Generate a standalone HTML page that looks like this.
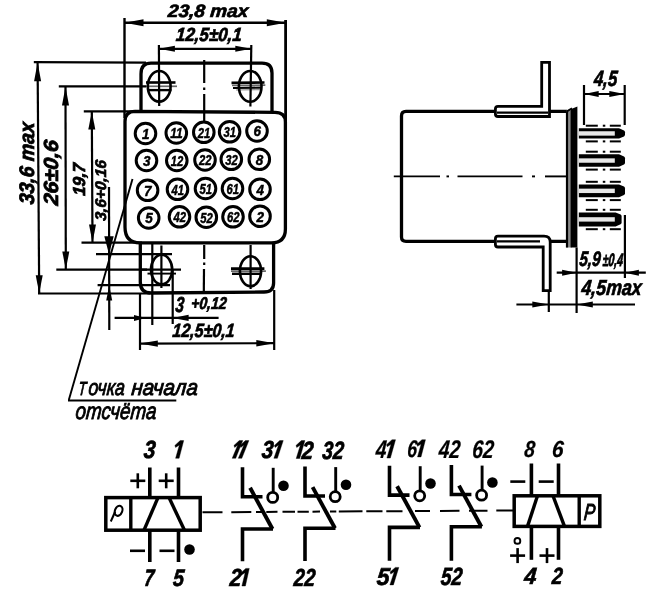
<!DOCTYPE html>
<html><head><meta charset="utf-8"><title>drawing</title>
<style>
html,body{margin:0;padding:0;background:#fff;}
body{width:660px;height:596px;overflow:hidden;font-family:"Liberation Sans",sans-serif;}
svg{display:block;position:absolute;left:0;top:0;filter:blur(0.45px);}
svg text{font-family:"Liberation Sans",sans-serif;fill:#000;}
</style></head><body>
<svg width="660" height="596" viewBox="0 0 660 596">
<rect width="660" height="596" fill="#fff"/>
<line x1="124.5" y1="18" x2="124.5" y2="118" stroke="#000" stroke-width="2.4" />
<line x1="285.6" y1="20" x2="285.6" y2="125" stroke="#000" stroke-width="2.8" />
<line x1="124.5" y1="22.8" x2="285.8" y2="22.8" stroke="#000" stroke-width="2.6" />
<polygon points="124.5,22.8 143.50,19.30 143.50,26.30" fill="#000"/>
<polygon points="285.8,22.8 266.80,26.30 266.80,19.30" fill="#000"/>
<text stroke="#000" stroke-width="0.7" transform="translate(167.6 16.8) skewX(-5)" x="0" y="0" font-size="17.88" font-weight="700" font-style="italic" textLength="80.25" lengthAdjust="spacingAndGlyphs">23,8 max</text>
<line x1="158.9" y1="45" x2="159.2" y2="106" stroke="#000" stroke-width="2.2" />
<line x1="251.3" y1="45" x2="250.4" y2="106.4" stroke="#000" stroke-width="2.2" />
<line x1="158.9" y1="48.8" x2="251.3" y2="48.8" stroke="#000" stroke-width="2.2" />
<polygon points="158.9,48.8 174.90,45.80 174.90,51.80" fill="#000"/>
<polygon points="251.3,48.8 235.30,51.80 235.30,45.80" fill="#000"/>
<text stroke="#000" stroke-width="0.7" transform="translate(175.5 41) skewX(-5)" x="0" y="0" font-size="18.99" font-weight="700" font-style="italic" textLength="65.88" lengthAdjust="spacingAndGlyphs">12,5±0,1</text>
<path d="M141 111.5 V74 Q141 63.2 151 63.2 H262 Q272 63.2 272 73 V112.3" stroke="#000" stroke-width="3.3" fill="none" />
<path d="M135 111.3 L275 112.4 Q285.4 112.5 285.4 122 V229 Q285.4 242.8 271.5 242.8 H140 Q125 242.8 125 227 V121.5 Q125 111.3 135 111.3 Z" stroke="#000" stroke-width="3.3" fill="none" />
<path d="M140.3 242.8 V282 Q140.3 293 151 293 L264 292 Q273.6 292 273.6 283 V242.8" stroke="#000" stroke-width="3.3" fill="none" />
<ellipse cx="159.2" cy="86.3" rx="11.4" ry="15.3" fill="none" stroke="#000" stroke-width="2.6"/>
<line x1="146" y1="82.5" x2="175.5" y2="82.5" stroke="#000" stroke-width="2.6" />
<line x1="146" y1="86.3" x2="177.0" y2="86.3" stroke="#000" stroke-width="1.7" stroke-opacity="0.6"/>
<line x1="147" y1="90.1" x2="171.5" y2="90.1" stroke="#000" stroke-width="2.4" />
<ellipse cx="250.2" cy="86.4" rx="11.3" ry="15.4" fill="none" stroke="#000" stroke-width="2.6"/>
<line x1="231.5" y1="82.9" x2="264.5" y2="82.5" stroke="#000" stroke-width="2.6" />
<line x1="232" y1="85.5" x2="265.3" y2="85.1" stroke="#000" stroke-width="1.6" stroke-opacity="0.6"/>
<line x1="233" y1="88" x2="262" y2="87.6" stroke="#000" stroke-width="2.2" />
<line x1="236" y1="90" x2="262" y2="89.6" stroke="#000" stroke-width="1.2" stroke-opacity="0.45"/>
<ellipse cx="161.6" cy="269.6" rx="10.6" ry="14.8" fill="none" stroke="#000" stroke-width="2.6"/>
<line x1="140" y1="269.6" x2="181" y2="269.6" stroke="#000" stroke-width="2.2" />
<line x1="147.5" y1="273.6" x2="176" y2="273.6" stroke="#000" stroke-width="1.9" />
<ellipse cx="250.5" cy="271.2" rx="10.6" ry="15" fill="none" stroke="#000" stroke-width="2.6"/>
<line x1="231" y1="268.59999999999997" x2="264.4" y2="268.59999999999997" stroke="#000" stroke-width="2.6" />
<line x1="231" y1="271.2" x2="265.9" y2="271.2" stroke="#000" stroke-width="1.7" stroke-opacity="0.6"/>
<line x1="232" y1="273.8" x2="260.4" y2="273.8" stroke="#000" stroke-width="2.4" />
<line x1="161.4" y1="245.5" x2="161.4" y2="288" stroke="#000" stroke-width="2.2" />
<line x1="250.6" y1="245" x2="250.6" y2="289" stroke="#000" stroke-width="2.2" />
<line x1="204.2" y1="60" x2="204.2" y2="83" stroke="#000" stroke-width="2.2" />
<line x1="204.2" y1="87.5" x2="204.2" y2="90" stroke="#000" stroke-width="2.2" />
<line x1="204.2" y1="94" x2="204.2" y2="122" stroke="#000" stroke-width="2.2" />
<line x1="204.2" y1="245" x2="204.2" y2="259" stroke="#000" stroke-width="2.2" />
<line x1="204.2" y1="262.5" x2="204.2" y2="265" stroke="#000" stroke-width="2.2" />
<line x1="204" y1="269" x2="203.8" y2="293" stroke="#000" stroke-width="2.2" />
<circle cx="145.5" cy="133.5" r="10.3" fill="#fff" stroke="#000" stroke-width="3.0"/>
<text stroke="#000" stroke-width="0.5" x="141.95" y="138.9" font-size="15.5" font-weight="700" font-style="italic" textLength="7.5" lengthAdjust="spacingAndGlyphs">1</text>
<circle cx="176.3" cy="133" r="10.3" fill="#fff" stroke="#000" stroke-width="3.0"/>
<text stroke="#000" stroke-width="0.5" x="170.25" y="138.4" font-size="15.5" font-weight="700" font-style="italic" textLength="12.5" lengthAdjust="spacingAndGlyphs">11</text>
<circle cx="203.8" cy="132.3" r="10.3" fill="#fff" stroke="#000" stroke-width="3.0"/>
<text stroke="#000" stroke-width="0.5" x="197.75" y="137.70000000000002" font-size="15.5" font-weight="700" font-style="italic" textLength="12.5" lengthAdjust="spacingAndGlyphs">21</text>
<circle cx="229.6" cy="131.8" r="10.3" fill="#fff" stroke="#000" stroke-width="3.0"/>
<text stroke="#000" stroke-width="0.5" x="223.54999999999998" y="137.20000000000002" font-size="15.5" font-weight="700" font-style="italic" textLength="12.5" lengthAdjust="spacingAndGlyphs">31</text>
<circle cx="257" cy="131" r="10.3" fill="#fff" stroke="#000" stroke-width="3.0"/>
<text stroke="#000" stroke-width="0.5" x="253.45" y="136.4" font-size="15.5" font-weight="700" font-style="italic" textLength="7.5" lengthAdjust="spacingAndGlyphs">6</text>
<circle cx="146.5" cy="160.5" r="10.3" fill="#fff" stroke="#000" stroke-width="3.0"/>
<text stroke="#000" stroke-width="0.5" x="142.95" y="165.9" font-size="15.5" font-weight="700" font-style="italic" textLength="7.5" lengthAdjust="spacingAndGlyphs">3</text>
<circle cx="176.8" cy="160.5" r="10.3" fill="#fff" stroke="#000" stroke-width="3.0"/>
<text stroke="#000" stroke-width="0.5" x="170.75" y="165.9" font-size="15.5" font-weight="700" font-style="italic" textLength="12.5" lengthAdjust="spacingAndGlyphs">12</text>
<circle cx="205" cy="160" r="10.3" fill="#fff" stroke="#000" stroke-width="3.0"/>
<text stroke="#000" stroke-width="0.5" x="198.95" y="165.4" font-size="15.5" font-weight="700" font-style="italic" textLength="12.5" lengthAdjust="spacingAndGlyphs">22</text>
<circle cx="231.3" cy="159.3" r="10.3" fill="#fff" stroke="#000" stroke-width="3.0"/>
<text stroke="#000" stroke-width="0.5" x="225.25" y="164.70000000000002" font-size="15.5" font-weight="700" font-style="italic" textLength="12.5" lengthAdjust="spacingAndGlyphs">32</text>
<circle cx="259.3" cy="159.3" r="10.3" fill="#fff" stroke="#000" stroke-width="3.0"/>
<text stroke="#000" stroke-width="0.5" x="255.75" y="164.70000000000002" font-size="15.5" font-weight="700" font-style="italic" textLength="7.5" lengthAdjust="spacingAndGlyphs">8</text>
<circle cx="147.6" cy="190.3" r="10.3" fill="#fff" stroke="#000" stroke-width="3.0"/>
<text stroke="#000" stroke-width="0.5" x="144.04999999999998" y="195.70000000000002" font-size="15.5" font-weight="700" font-style="italic" textLength="7.5" lengthAdjust="spacingAndGlyphs">7</text>
<circle cx="177.5" cy="189.3" r="10.3" fill="#fff" stroke="#000" stroke-width="3.0"/>
<text stroke="#000" stroke-width="0.5" x="171.45" y="194.70000000000002" font-size="15.5" font-weight="700" font-style="italic" textLength="12.5" lengthAdjust="spacingAndGlyphs">41</text>
<circle cx="205.5" cy="188.5" r="10.3" fill="#fff" stroke="#000" stroke-width="3.0"/>
<text stroke="#000" stroke-width="0.5" x="199.45" y="193.9" font-size="15.5" font-weight="700" font-style="italic" textLength="12.5" lengthAdjust="spacingAndGlyphs">51</text>
<circle cx="232.5" cy="188.5" r="10.3" fill="#fff" stroke="#000" stroke-width="3.0"/>
<text stroke="#000" stroke-width="0.5" x="226.45" y="193.9" font-size="15.5" font-weight="700" font-style="italic" textLength="12.5" lengthAdjust="spacingAndGlyphs">61</text>
<circle cx="260" cy="189.3" r="10.3" fill="#fff" stroke="#000" stroke-width="3.0"/>
<text stroke="#000" stroke-width="0.5" x="256.45" y="194.70000000000002" font-size="15.5" font-weight="700" font-style="italic" textLength="7.5" lengthAdjust="spacingAndGlyphs">4</text>
<circle cx="148.7" cy="218" r="10.3" fill="#fff" stroke="#000" stroke-width="3.0"/>
<text stroke="#000" stroke-width="0.5" x="145.14999999999998" y="223.4" font-size="15.5" font-weight="700" font-style="italic" textLength="7.5" lengthAdjust="spacingAndGlyphs">5</text>
<circle cx="179.5" cy="216.8" r="10.3" fill="#fff" stroke="#000" stroke-width="3.0"/>
<text stroke="#000" stroke-width="0.5" x="173.45" y="222.20000000000002" font-size="15.5" font-weight="700" font-style="italic" textLength="12.5" lengthAdjust="spacingAndGlyphs">42</text>
<circle cx="206.3" cy="217.2" r="10.3" fill="#fff" stroke="#000" stroke-width="3.0"/>
<text stroke="#000" stroke-width="0.5" x="200.25" y="222.6" font-size="15.5" font-weight="700" font-style="italic" textLength="12.5" lengthAdjust="spacingAndGlyphs">52</text>
<circle cx="233" cy="216.8" r="10.3" fill="#fff" stroke="#000" stroke-width="3.0"/>
<text stroke="#000" stroke-width="0.5" x="226.95" y="222.20000000000002" font-size="15.5" font-weight="700" font-style="italic" textLength="12.5" lengthAdjust="spacingAndGlyphs">62</text>
<circle cx="260" cy="216.2" r="10.3" fill="#fff" stroke="#000" stroke-width="3.0"/>
<text stroke="#000" stroke-width="0.5" x="256.45" y="221.6" font-size="15.5" font-weight="700" font-style="italic" textLength="7.5" lengthAdjust="spacingAndGlyphs">2</text>
<line x1="33.8" y1="62.2" x2="146" y2="62.6" stroke="#000" stroke-width="2.2" />
<line x1="38" y1="293.5" x2="150" y2="293.5" stroke="#000" stroke-width="2.2" />
<line x1="37.6" y1="62.2" x2="39.2" y2="293.5" stroke="#000" stroke-width="2.2" />
<polygon points="37.6,62.2 41.10,81.20 34.10,81.20" fill="#000"/>
<polygon points="39.2,293.3 35.70,275.30 42.70,275.30" fill="#000"/>
<text stroke="#000" stroke-width="0.8" transform="translate(33.6,204.8) rotate(-90) skewX(-5)" x="0" y="0" font-size="20.95" font-weight="700" font-style="italic" textLength="82.25" lengthAdjust="spacingAndGlyphs">33,6 max</text>
<line x1="58.8" y1="86.3" x2="146" y2="86.3" stroke="#000" stroke-width="2.2" />
<line x1="56.3" y1="269.7" x2="147" y2="269.7" stroke="#000" stroke-width="2.2" />
<line x1="65.5" y1="86.5" x2="65.8" y2="269.6" stroke="#000" stroke-width="2.2" />
<polygon points="65.5,86.5 69.00,105.50 62.00,105.50" fill="#000"/>
<polygon points="65.8,269.6 62.30,251.60 69.30,251.60" fill="#000"/>
<text stroke="#000" stroke-width="0.8" transform="translate(58.4,205.8) rotate(-90) skewX(-5)" x="0" y="0" font-size="20.39" font-weight="700" font-style="italic" textLength="65.29" lengthAdjust="spacingAndGlyphs">26±0,6</text>
<line x1="83.8" y1="111.3" x2="136" y2="111.3" stroke="#000" stroke-width="2.2" />
<line x1="81.5" y1="242.7" x2="142" y2="242.7" stroke="#000" stroke-width="2.2" />
<line x1="91.8" y1="111.5" x2="92.5" y2="242.5" stroke="#000" stroke-width="2.2" />
<polygon points="91.8,111.5 95.30,129.50 88.30,129.50" fill="#000"/>
<polygon points="92.5,242.4 89.00,224.40 96.00,224.40" fill="#000"/>
<text stroke="#000" stroke-width="0.8" transform="translate(85.4,196) rotate(-90) skewX(-5)" x="0" y="0" font-size="17.32" font-weight="700" font-style="italic" textLength="32.38" lengthAdjust="spacingAndGlyphs">19,7</text>
<line x1="109" y1="187" x2="109.3" y2="330" stroke="#000" stroke-width="2.2" />
<polygon points="109.0,254.3 104.30,236.30 113.70,236.30" fill="#000"/>
<polygon points="109.2,285.5 112.20,300.50 106.20,300.50" fill="#000"/>
<line x1="96" y1="254.2" x2="172" y2="254.2" stroke="#000" stroke-width="2.2" />
<line x1="97.6" y1="285.2" x2="170" y2="285.2" stroke="#000" stroke-width="2.2" />
<text stroke="#000" stroke-width="0.7" transform="translate(106.3,221) rotate(-90) skewX(-5)" x="0" y="0" font-size="15.50" font-weight="700" font-style="italic" textLength="60.60" lengthAdjust="spacingAndGlyphs">3,6+0,16</text>
<line x1="140" y1="293" x2="140" y2="350" stroke="#000" stroke-width="2.2" />
<line x1="152.3" y1="242.6" x2="152.3" y2="325" stroke="#000" stroke-width="2.2" />
<line x1="172.7" y1="270" x2="172.7" y2="324" stroke="#000" stroke-width="2.2" />
<line x1="274.2" y1="290" x2="274.2" y2="350" stroke="#000" stroke-width="2.2" />
<line x1="114.6" y1="317.9" x2="218.6" y2="317.9" stroke="#000" stroke-width="2.2" />
<polygon points="146,317.9 134.00,320.90 134.00,314.90" fill="#000"/>
<polygon points="172.6,317.9 188.60,314.70 188.60,321.10" fill="#000"/>
<line x1="139.8" y1="343.6" x2="274.3" y2="343.2" stroke="#000" stroke-width="2.2" />
<polygon points="139.8,343.6 157.80,340.40 157.80,346.80" fill="#000"/>
<polygon points="274.3,343.2 256.30,346.40 256.30,340.00" fill="#000"/>
<text stroke="#000" stroke-width="0.7" transform="translate(175 312.3) skewX(-5)" x="0" y="0" font-size="21.65" font-weight="700" font-style="italic" textLength="8.61" lengthAdjust="spacingAndGlyphs">3</text>
<text stroke="#000" stroke-width="0.7" transform="translate(190.8 309) skewX(-5)" x="0" y="0" font-size="17.04" font-weight="700" font-style="italic" textLength="35.60" lengthAdjust="spacingAndGlyphs">+0,12</text>
<text stroke="#000" stroke-width="0.7" transform="translate(172 337) skewX(-5)" x="0" y="0" font-size="19.13" font-weight="700" font-style="italic" textLength="62.27" lengthAdjust="spacingAndGlyphs">12,5±0,1</text>
<line x1="132.5" y1="179" x2="68.8" y2="400" stroke="#000" stroke-width="1.9" />
<line x1="68" y1="400.5" x2="176.3" y2="400.5" stroke="#000" stroke-width="2.0" />
<text stroke="#000" stroke-width="0.9" transform="translate(78 395) skewX(-5)" x="0" y="0" font-size="18.85" font-weight="400" font-style="italic" textLength="7.79" lengthAdjust="spacingAndGlyphs">Т</text>
<text stroke="#000" stroke-width="0.9" transform="translate(88 395) skewX(-5)" x="0" y="0" font-size="22.26" font-weight="400" font-style="italic" textLength="36.44" lengthAdjust="spacingAndGlyphs">очка</text>
<text stroke="#000" stroke-width="0.9" transform="translate(131 395) skewX(-5)" x="0" y="0" font-size="22.26" font-weight="400" font-style="italic" textLength="66.44" lengthAdjust="spacingAndGlyphs">начала</text>
<text stroke="#000" stroke-width="0.9" transform="translate(75 419.3) skewX(-5)" x="0" y="0" font-size="23.21" font-weight="400" font-style="italic" textLength="80.89" lengthAdjust="spacingAndGlyphs">отсчёта</text>
<path d="M567 111.4 H406 Q401.5 111.4 401.5 116 V237 Q401.5 241.3 406 241.3 H567" stroke="#000" stroke-width="3.3" fill="none" />
<path d="M541.7 62.4 H549.5 V116.5 H498 Q495.4 116.5 495.4 114 V109 Q495.4 106.4 498 106.4 H541.7 Z" stroke="#000" stroke-width="2.8" fill="#fff" />
<line x1="497" y1="112.7" x2="548" y2="112.7" stroke="#000" stroke-width="2.2" />
<path d="M498 236.2 H544 Q550.2 236.2 550.2 242 V290.6 H543.2 V247 H498 Q495.4 247 495.4 244.5 V238.8 Q495.4 236.2 498 236.2 Z" stroke="#000" stroke-width="2.8" fill="#fff" />
<line x1="497" y1="241.3" x2="540" y2="241.3" stroke="#000" stroke-width="2.2" />
<rect x="566" y="110.5" width="6" height="137" fill="#888"/>
<path d="M567 111.4 L567 247.5" stroke="#000" stroke-width="2.2" fill="none" />
<path d="M570.6 109.2 L577.4 106.6 V247.6 H570.6 Z" fill="#000"/>
<path d="M566.4 111.6 L572 108.4" stroke="#000" stroke-width="1.8" fill="none" />
<path d="M578.8 128.3 H619 L624 130.5 Q625 131.3 625 132.3 V134.6 Q625 135.6 624 136.4 L619 138.6 H578.8 Z" fill="#000"/>
<rect x="578.8" y="131.25" width="36" height="4.4" fill="#e8e8e8"/>
<line x1="585.8" y1="125.70000000000002" x2="597.8" y2="125.70000000000002" stroke="#000" stroke-width="2.0" />
<line x1="602.8" y1="125.70000000000002" x2="605.3" y2="125.70000000000002" stroke="#000" stroke-width="2.0" />
<line x1="609.8" y1="125.70000000000002" x2="620.8" y2="125.70000000000002" stroke="#000" stroke-width="2.0" />
<line x1="585.8" y1="141.4" x2="597.8" y2="141.4" stroke="#000" stroke-width="2.0" />
<line x1="602.8" y1="141.4" x2="605.3" y2="141.4" stroke="#000" stroke-width="2.0" />
<line x1="609.8" y1="141.4" x2="620.8" y2="141.4" stroke="#000" stroke-width="2.0" />
<path d="M578.8 154.3 H619 L624 156.5 Q625 157.3 625 158.3 V162.8 Q625 163.8 624 164.60000000000002 L619 166.8 H578.8 Z" fill="#000"/>
<rect x="578.8" y="158.35000000000002" width="36" height="4.4" fill="#e8e8e8"/>
<line x1="585.8" y1="151.70000000000002" x2="597.8" y2="151.70000000000002" stroke="#000" stroke-width="2.0" />
<line x1="602.8" y1="151.70000000000002" x2="605.3" y2="151.70000000000002" stroke="#000" stroke-width="2.0" />
<line x1="609.8" y1="151.70000000000002" x2="620.8" y2="151.70000000000002" stroke="#000" stroke-width="2.0" />
<line x1="585.8" y1="169.60000000000002" x2="597.8" y2="169.60000000000002" stroke="#000" stroke-width="2.0" />
<line x1="602.8" y1="169.60000000000002" x2="605.3" y2="169.60000000000002" stroke="#000" stroke-width="2.0" />
<line x1="609.8" y1="169.60000000000002" x2="620.8" y2="169.60000000000002" stroke="#000" stroke-width="2.0" />
<path d="M578.8 184.4 H619 L624 186.6 Q625 187.4 625 188.4 V193.3 Q625 194.3 624 195.10000000000002 L619 197.3 H578.8 Z" fill="#000"/>
<rect x="578.8" y="188.65000000000003" width="36" height="4.4" fill="#e8e8e8"/>
<line x1="585.8" y1="181.8" x2="597.8" y2="181.8" stroke="#000" stroke-width="2.0" />
<line x1="602.8" y1="181.8" x2="605.3" y2="181.8" stroke="#000" stroke-width="2.0" />
<line x1="609.8" y1="181.8" x2="620.8" y2="181.8" stroke="#000" stroke-width="2.0" />
<line x1="585.8" y1="200.10000000000002" x2="597.8" y2="200.10000000000002" stroke="#000" stroke-width="2.0" />
<line x1="602.8" y1="200.10000000000002" x2="605.3" y2="200.10000000000002" stroke="#000" stroke-width="2.0" />
<line x1="609.8" y1="200.10000000000002" x2="620.8" y2="200.10000000000002" stroke="#000" stroke-width="2.0" />
<path d="M578.8 212.4 H615.6 L620.6 214.6 Q621.6 215.4 621.6 216.4 V222.4 Q621.6 223.4 620.6 224.20000000000002 L615.6 226.4 H578.8 Z" fill="#000"/>
<rect x="578.8" y="217.20000000000002" width="36" height="4.4" fill="#e8e8e8"/>
<line x1="585.8" y1="209.8" x2="597.8" y2="209.8" stroke="#000" stroke-width="2.0" />
<line x1="602.8" y1="209.8" x2="605.3" y2="209.8" stroke="#000" stroke-width="2.0" />
<line x1="609.8" y1="209.8" x2="620.8" y2="209.8" stroke="#000" stroke-width="2.0" />
<line x1="585.8" y1="229.20000000000002" x2="597.8" y2="229.20000000000002" stroke="#000" stroke-width="2.0" />
<line x1="602.8" y1="229.20000000000002" x2="605.3" y2="229.20000000000002" stroke="#000" stroke-width="2.0" />
<line x1="609.8" y1="229.20000000000002" x2="620.8" y2="229.20000000000002" stroke="#000" stroke-width="2.0" />
<line x1="393.8" y1="176.4" x2="440" y2="176.4" stroke="#000" stroke-width="1.9" />
<line x1="446.5" y1="176.4" x2="449" y2="176.4" stroke="#000" stroke-width="1.9" />
<line x1="457.5" y1="176.4" x2="522.5" y2="176.4" stroke="#000" stroke-width="1.9" />
<line x1="532" y1="176.4" x2="535" y2="176.4" stroke="#000" stroke-width="1.9" />
<line x1="545" y1="176.4" x2="567" y2="176.4" stroke="#000" stroke-width="1.9" />
<line x1="584" y1="85" x2="584" y2="125" stroke="#000" stroke-width="2.2" />
<line x1="624.7" y1="85" x2="624.7" y2="125" stroke="#000" stroke-width="2.2" />
<line x1="584.2" y1="94" x2="624.8" y2="94" stroke="#000" stroke-width="2.2" />
<polygon points="584.2,94 598.70,91.00 598.70,97.00" fill="#000"/>
<polygon points="624.8,94 609.30,97.00 609.30,91.00" fill="#000"/>
<text stroke="#000" stroke-width="0.7" transform="translate(593.5 85.8) skewX(-5)" x="0" y="0" font-size="22.07" font-weight="700" font-style="italic" textLength="23.38" lengthAdjust="spacingAndGlyphs">4,5</text>
<line x1="576.6" y1="247.5" x2="576.6" y2="313" stroke="#000" stroke-width="2.2" />
<line x1="624.9" y1="215" x2="624.9" y2="278" stroke="#000" stroke-width="2.2" />
<line x1="556.7" y1="272.7" x2="645.8" y2="272.7" stroke="#000" stroke-width="2.2" />
<polygon points="576.6,272.7 562.10,275.70 562.10,269.70" fill="#000"/>
<polygon points="624.9,272.7 638.90,269.70 638.90,275.70" fill="#000"/>
<text stroke="#000" stroke-width="0.7" transform="translate(579 265.8) skewX(-5)" x="0" y="0" font-size="20.95" font-weight="700" font-style="italic" textLength="21.15" lengthAdjust="spacingAndGlyphs">5,9</text>
<text stroke="#000" stroke-width="0.8" transform="translate(602.3 265.9) skewX(-5)" x="0" y="0" font-size="17.88" font-weight="700" font-style="italic" textLength="20.35" lengthAdjust="spacingAndGlyphs">±0,4</text>
<line x1="548.8" y1="291.8" x2="548.8" y2="312" stroke="#000" stroke-width="2.2" />
<line x1="516.4" y1="304.5" x2="635" y2="304.5" stroke="#000" stroke-width="2.2" />
<polygon points="548.8,304.5 532.30,307.50 532.30,301.50" fill="#000"/>
<polygon points="576.8,304.5 592.80,301.50 592.80,307.50" fill="#000"/>
<text stroke="#000" stroke-width="0.7" transform="translate(581 295) skewX(-5)" x="0" y="0" font-size="21.65" font-weight="700" font-style="italic" textLength="60.21" lengthAdjust="spacingAndGlyphs">4,5max</text>
<rect x="105.8" y="497.6" width="94.4" height="32.6" fill="none" stroke="#000" stroke-width="3.5"/>
<line x1="130.8" y1="497.6" x2="130.8" y2="530.2" stroke="#000" stroke-width="3.4" />
<line x1="158" y1="497.6" x2="144" y2="530.2" stroke="#000" stroke-width="3.4" />
<line x1="169" y1="497.6" x2="184.5" y2="530.2" stroke="#000" stroke-width="3.4" />
<line x1="149.8" y1="467.5" x2="149.8" y2="497.6" stroke="#000" stroke-width="3.6" />
<line x1="149.8" y1="530.2" x2="149.8" y2="562" stroke="#000" stroke-width="3.6" />
<line x1="178.5" y1="467.5" x2="178.5" y2="497.6" stroke="#000" stroke-width="3.6" />
<line x1="178.5" y1="530.2" x2="178.5" y2="562" stroke="#000" stroke-width="3.6" />
<ellipse cx="118.6" cy="510.8" rx="3.6" ry="5.2" transform="rotate(22 118.6 510.8)" fill="none" stroke="#000" stroke-width="2.1"/>
<line x1="115.2" y1="511.5" x2="110.8" y2="521.5" stroke="#000" stroke-width="2.0" />
<line x1="130.3" y1="480.8" x2="145.3" y2="480.8" stroke="#000" stroke-width="2.6" />
<line x1="137.8" y1="473.3" x2="137.8" y2="488.3" stroke="#000" stroke-width="2.6" />
<line x1="158.7" y1="480.8" x2="173.7" y2="480.8" stroke="#000" stroke-width="2.6" />
<line x1="166.2" y1="473.3" x2="166.2" y2="488.3" stroke="#000" stroke-width="2.6" />
<line x1="130.0" y1="550.8" x2="145.0" y2="550.8" stroke="#000" stroke-width="2.6" />
<line x1="159.5" y1="550.8" x2="174.5" y2="550.8" stroke="#000" stroke-width="2.6" />
<circle cx="189.5" cy="549.5" r="5.3" fill="#000"/>
<line x1="202.5" y1="512.2971061093247" x2="222.5" y2="512.1813504823151" stroke="#000" stroke-width="2.0" />
<line x1="231.3" y1="512.1304180064308" x2="251.3" y2="512.0146623794212" stroke="#000" stroke-width="2.0" />
<line x1="256" y1="511.9874598070739" x2="262" y2="511.952733118971" stroke="#000" stroke-width="2.0" />
<line x1="266.3" y1="511.92784565916395" x2="277.5" y2="511.8630225080385" stroke="#000" stroke-width="2.0" />
<line x1="282.5" y1="511.8340836012861" x2="295" y2="511.7617363344051" stroke="#000" stroke-width="2.0" />
<line x1="297.5" y1="511.7472668810289" x2="308.8" y2="511.68186495176843" stroke="#000" stroke-width="2.0" />
<line x1="312.5" y1="511.66045016077163" x2="320" y2="511.61704180064305" stroke="#000" stroke-width="2.0" />
<line x1="330" y1="511.5591639871382" x2="336.3" y2="511.5227009646302" stroke="#000" stroke-width="2.0" />
<line x1="338.8" y1="511.508231511254" x2="362.5" y2="511.37106109324753" stroke="#000" stroke-width="2.0" />
<line x1="366.3" y1="511.3490675241157" x2="382.5" y2="511.25530546623787" stroke="#000" stroke-width="2.0" />
<line x1="386.3" y1="511.2333118971061" x2="402.5" y2="511.13954983922827" stroke="#000" stroke-width="2.0" />
<line x1="415" y1="511.06720257234724" x2="430" y2="510.98038585208997" stroke="#000" stroke-width="2.0" />
<line x1="440" y1="510.92250803858514" x2="459.5" y2="510.80964630225077" stroke="#000" stroke-width="2.0" />
<line x1="469" y1="510.7546623794212" x2="487.5" y2="510.64758842443723" stroke="#000" stroke-width="2.0" />
<line x1="496.3" y1="510.596655948553" x2="513" y2="510.49999999999994" stroke="#000" stroke-width="2.0" />
<path d="M242.5 467.3 V496.7 H262.5" stroke="#000" stroke-width="3.6" fill="none" />
<line x1="250.1" y1="487.8" x2="272.5" y2="529.0" stroke="#000" stroke-width="3.9" />
<path d="M273.0 529.0 H242.5 V561.3" stroke="#000" stroke-width="3.6" fill="none" />
<line x1="273.2" y1="467.8" x2="273.2" y2="492.5" stroke="#000" stroke-width="2.9000000000000004" />
<circle cx="272.7" cy="497.4" r="5.0" fill="#fff" stroke="#000" stroke-width="2.8"/>
<circle cx="283.5" cy="485.7" r="5.3" fill="#000"/>
<path d="M305 466.6 V496.0 H325" stroke="#000" stroke-width="3.6" fill="none" />
<line x1="312.6" y1="487.1" x2="335" y2="528.3" stroke="#000" stroke-width="3.9" />
<path d="M335.5 528.3 H305 V561.0899999999999" stroke="#000" stroke-width="3.6" fill="none" />
<line x1="335.7" y1="467.1" x2="335.7" y2="491.8" stroke="#000" stroke-width="2.9000000000000004" />
<circle cx="335.2" cy="496.7" r="5.0" fill="#fff" stroke="#000" stroke-width="2.8"/>
<circle cx="346" cy="484.7" r="5.3" fill="#000"/>
<path d="M389.5 465.7 V495.09999999999997 H409.5" stroke="#000" stroke-width="3.6" fill="none" />
<line x1="397.1" y1="486.2" x2="419.5" y2="527.4" stroke="#000" stroke-width="3.9" />
<path d="M420.0 527.4 H389.5 V560.8199999999999" stroke="#000" stroke-width="3.6" fill="none" />
<line x1="420.2" y1="466.2" x2="420.2" y2="490.9" stroke="#000" stroke-width="2.9000000000000004" />
<circle cx="419.7" cy="495.79999999999995" r="5.0" fill="#fff" stroke="#000" stroke-width="2.8"/>
<circle cx="430.5" cy="483.49999999999994" r="5.3" fill="#000"/>
<path d="M451.4 465.1 V494.5 H471.4" stroke="#000" stroke-width="3.6" fill="none" />
<line x1="459.0" y1="485.6" x2="481.4" y2="526.8" stroke="#000" stroke-width="3.9" />
<path d="M481.9 526.8 H451.4 V560.64" stroke="#000" stroke-width="3.6" fill="none" />
<line x1="482.09999999999997" y1="465.6" x2="482.09999999999997" y2="490.3" stroke="#000" stroke-width="2.9000000000000004" />
<circle cx="481.59999999999997" cy="495.2" r="5.0" fill="#fff" stroke="#000" stroke-width="2.8"/>
<circle cx="492.4" cy="482.5" r="5.3" fill="#000"/>
<text stroke="#000" stroke-width="0.7" transform="translate(143.3 458.4) skewX(-5)" x="0" y="0" font-size="24.86" font-weight="700" font-style="italic" textLength="11.70" lengthAdjust="spacingAndGlyphs">3</text>
<polygon points="175.60,458.30 179.10,458.30 183.70,440.60 180.20,440.60 174.89,445.38 175.59,447.38 179.36,444.98" fill="#000" stroke="#000" stroke-width="0.4" stroke-linejoin="round"/>
<text stroke="#000" stroke-width="0.7" transform="translate(143.8 585.8) skewX(-5)" x="0" y="0" font-size="23.74" font-weight="700" font-style="italic" textLength="9.67" lengthAdjust="spacingAndGlyphs">7</text>
<text stroke="#000" stroke-width="0.7" transform="translate(172.5 585.8) skewX(-5)" x="0" y="0" font-size="23.74" font-weight="700" font-style="italic" textLength="10.97" lengthAdjust="spacingAndGlyphs">5</text>
<polygon points="232.20,458.30 235.70,458.30 242.78,440.60 239.28,440.60 233.97,445.38 234.67,447.38 237.77,444.98" fill="#000" stroke="#000" stroke-width="0.4" stroke-linejoin="round"/>
<polygon points="238.32,458.30 241.82,458.30 248.90,440.60 245.40,440.60 240.09,445.38 240.79,447.38 243.89,444.98" fill="#000" stroke="#000" stroke-width="0.4" stroke-linejoin="round"/>
<polygon points="273.90,458.30 277.40,458.30 283.24,440.60 279.74,440.60 274.43,445.38 275.13,447.38 278.56,444.98" fill="#000" stroke="#000" stroke-width="0.4" stroke-linejoin="round"/>
<text stroke="#000" stroke-width="0.7" transform="translate(261.3 458.3) skewX(-5)" x="0" y="0" font-size="24.72" font-weight="700" font-style="italic" textLength="11.61" lengthAdjust="spacingAndGlyphs">3</text>
<polygon points="296.20,458.50 299.70,458.50 304.89,440.60 301.39,440.60 296.02,445.43 296.72,447.43 300.39,445.03" fill="#000" stroke="#000" stroke-width="0.4" stroke-linejoin="round"/>
<text stroke="#000" stroke-width="0.7" transform="translate(301.2 458.5) skewX(-5)" x="0" y="0" font-size="25.00" font-weight="700" font-style="italic" textLength="11.49" lengthAdjust="spacingAndGlyphs">2</text>
<text stroke="#000" stroke-width="0.7" transform="translate(321.8 458.5) skewX(-5)" x="0" y="0" font-size="25.00" font-weight="700" font-style="italic" textLength="21.49" lengthAdjust="spacingAndGlyphs">32</text>
<polygon points="386.90,458.00 390.40,458.00 395.52,439.70 392.02,439.70 386.53,444.64 387.23,446.64 391.04,444.24" fill="#000" stroke="#000" stroke-width="0.4" stroke-linejoin="round"/>
<text stroke="#000" stroke-width="0.25" transform="translate(375.2 458) skewX(-5)" x="0" y="0" font-size="25.56" font-weight="700" font-style="italic" textLength="10.65" lengthAdjust="spacingAndGlyphs">4</text>
<polygon points="417.50,456.90 421.00,456.90 425.47,439.70 421.97,439.70 416.81,444.34 417.51,446.34 421.16,443.94" fill="#000" stroke="#000" stroke-width="0.4" stroke-linejoin="round"/>
<text stroke="#000" stroke-width="0.25" transform="translate(406.7 456.9) skewX(-5)" x="0" y="0" font-size="24.02" font-weight="700" font-style="italic" textLength="9.85" lengthAdjust="spacingAndGlyphs">6</text>
<text stroke="#000" stroke-width="0.25" transform="translate(438.3 458) skewX(-5)" x="0" y="0" font-size="25.56" font-weight="700" font-style="italic" textLength="21.35" lengthAdjust="spacingAndGlyphs">42</text>
<text stroke="#000" stroke-width="0.25" transform="translate(471.7 458) skewX(-5)" x="0" y="0" font-size="25.56" font-weight="700" font-style="italic" textLength="21.45" lengthAdjust="spacingAndGlyphs">62</text>
<text stroke="#000" stroke-width="0.25" transform="translate(523.8 456.6) skewX(-5)" x="0" y="0" font-size="23.18" font-weight="700" font-style="italic" textLength="10.71" lengthAdjust="spacingAndGlyphs">8</text>
<text stroke="#000" stroke-width="0.25" transform="translate(551.5 456.6) skewX(-5)" x="0" y="0" font-size="23.18" font-weight="700" font-style="italic" textLength="11.51" lengthAdjust="spacingAndGlyphs">6</text>
<polygon points="241.90,586.00 245.40,586.00 249.27,568.40 245.77,568.40 240.49,573.15 241.19,575.15 245.13,572.75" fill="#000" stroke="#000" stroke-width="0.4" stroke-linejoin="round"/>
<text stroke="#000" stroke-width="0.7" transform="translate(229.2 586) skewX(-5)" x="0" y="0" font-size="24.58" font-weight="700" font-style="italic" textLength="11.72" lengthAdjust="spacingAndGlyphs">2</text>
<text stroke="#000" stroke-width="0.7" transform="translate(293.3 586) skewX(-5)" x="0" y="0" font-size="24.58" font-weight="700" font-style="italic" textLength="21.42" lengthAdjust="spacingAndGlyphs">22</text>
<polygon points="389.90,584.90 393.40,584.90 398.82,567.40 395.32,567.40 390.07,572.12 390.77,574.12 394.26,571.73" fill="#000" stroke="#000" stroke-width="0.4" stroke-linejoin="round"/>
<text stroke="#000" stroke-width="0.7" transform="translate(376.2 584.9) skewX(-5)" x="0" y="0" font-size="24.44" font-weight="700" font-style="italic" textLength="12.73" lengthAdjust="spacingAndGlyphs">5</text>
<text stroke="#000" stroke-width="0.7" transform="translate(440.2 585.2) skewX(-5)" x="0" y="0" font-size="24.86" font-weight="700" font-style="italic" textLength="21.50" lengthAdjust="spacingAndGlyphs">52</text>
<text stroke="#000" stroke-width="0.7" transform="translate(523.8 583.5) skewX(-5)" x="0" y="0" font-size="23.32" font-weight="700" font-style="italic" textLength="12.20" lengthAdjust="spacingAndGlyphs">4</text>
<text stroke="#000" stroke-width="0.7" transform="translate(551.5 583.5) skewX(-5)" x="0" y="0" font-size="23.32" font-weight="700" font-style="italic" textLength="10.50" lengthAdjust="spacingAndGlyphs">2</text>
<rect x="514.2" y="495.8" width="85.6" height="30.6" fill="none" stroke="#000" stroke-width="3.5"/>
<line x1="579.2" y1="495.8" x2="579.2" y2="526.4" stroke="#000" stroke-width="3.4" />
<line x1="537.5" y1="495.8" x2="527.5" y2="526.4" stroke="#000" stroke-width="3.4" />
<line x1="553" y1="495.8" x2="564.5" y2="526.4" stroke="#000" stroke-width="3.4" />
<line x1="531.4" y1="463.5" x2="531.4" y2="495.8" stroke="#000" stroke-width="3.6" />
<line x1="531.4" y1="526.4" x2="531.4" y2="559.8" stroke="#000" stroke-width="3.6" />
<line x1="558.5" y1="463.5" x2="558.5" y2="495.8" stroke="#000" stroke-width="3.6" />
<line x1="558.5" y1="526.4" x2="558.5" y2="559.8" stroke="#000" stroke-width="3.6" />
<text stroke="#000" stroke-width="1.1" transform="translate(583.5 520) skewX(-5)" x="0" y="0" font-size="23.04" font-weight="400" font-style="italic" textLength="11.02" lengthAdjust="spacingAndGlyphs">P</text>
<line x1="510.29999999999995" y1="481.6" x2="525.3" y2="481.6" stroke="#000" stroke-width="2.6" />
<line x1="538.7" y1="481.6" x2="553.7" y2="481.6" stroke="#000" stroke-width="2.6" />
<circle cx="517.4" cy="540.9" r="2.9" fill="#fff" stroke="#000" stroke-width="1.9"/>
<line x1="510.1" y1="555.6" x2="525.1" y2="555.6" stroke="#000" stroke-width="2.6" />
<line x1="517.6" y1="548.1" x2="517.6" y2="563.1" stroke="#000" stroke-width="2.6" />
<line x1="539.5" y1="555.6" x2="554.5" y2="555.6" stroke="#000" stroke-width="2.6" />
<line x1="547" y1="548.1" x2="547" y2="563.1" stroke="#000" stroke-width="2.6" />
</svg>
</body></html>
